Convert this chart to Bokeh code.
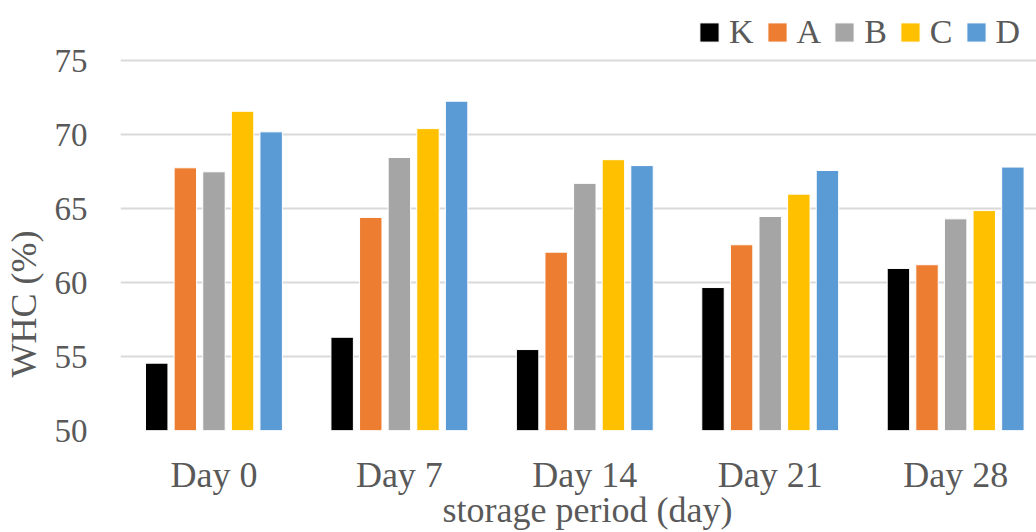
from bokeh.plotting import figure
from bokeh.models import ColumnDataSource, FixedTicker, Range1d, Legend, LegendItem
from bokeh.embed import file_html
from bokeh.resources import INLINE

days = ["Day 0", "Day 7", "Day 14", "Day 21", "Day 28"]
series_names = ["K", "A", "B", "C", "D"]
K = [54.55, 56.30, 55.47, 59.66, 60.95]
A = [67.75, 64.40, 62.05, 62.55, 61.20]
B = [67.48, 68.45, 66.70, 64.46, 64.30]
C = [71.57, 70.40, 68.30, 65.97, 64.86]
D = [70.18, 72.25, 67.90, 67.57, 67.80]
colors = ["#000000", "#ED7D31", "#A5A5A5", "#FFC000", "#5B9BD5"]
y_ticks = [50, 55, 60, 65, 70, 75]

FONT = "Liberation Serif"
TXT = "#595959"
NB = "\u00a0"

p = figure(width=1036, height=532, output_backend="svg", toolbar_location=None,
           x_range=Range1d(-0.504, 4.436), y_range=Range1d(50, 78.65),
           min_border_left=120, min_border_right=0, min_border_top=6, min_border_bottom=102)
p.outline_line_color = None
p.background_fill_color = "white"
p.border_fill_color = "white"

pitch = 0.1543
bw = 0.121
items = []
for i, (name, vals, col) in enumerate(zip(series_names, [K, A, B, C, D], colors)):
    xs = [j + (i - 2) * pitch for j in range(len(days))]
    src = ColumnDataSource(dict(x=xs, top=vals, day=days))
    r = p.vbar(x="x", top="top", bottom=50, width=bw, source=src,
               fill_color=col, line_color="white", line_width=1)
    items.append(LegendItem(label=name, renderers=[r]))

legend = Legend(items=items, orientation="horizontal", location=(577, 379),
                glyph_width=24, glyph_height=24, label_standoff=8, spacing=11,
                padding=0, margin=0, border_line_color=None, background_fill_alpha=0,
                label_text_font=FONT, label_text_font_size="34px", label_text_color=TXT)
p.add_layout(legend)

# axes
p.xaxis.ticker = FixedTicker(ticks=list(range(len(days))))
p.xaxis.major_label_overrides = {i: d for i, d in enumerate(days)}
p.xaxis.axis_line_color = None
p.xaxis.major_tick_line_color = None
p.xaxis.minor_tick_line_color = None
p.xaxis.major_label_standoff = 18
p.xaxis.major_label_text_font = FONT
p.xaxis.major_label_text_font_size = "36px"
p.xaxis.major_label_text_color = TXT
p.xaxis.axis_label = NB * 2 + "storage period (day)"
p.xaxis.axis_label_text_font = FONT
p.xaxis.axis_label_text_font_size = "36px"
p.xaxis.axis_label_text_font_style = "normal"
p.xaxis.axis_label_text_color = TXT
p.xaxis.axis_label_standoff = -8

p.yaxis.ticker = FixedTicker(ticks=y_ticks)
p.yaxis.axis_line_color = None
p.yaxis.major_tick_line_color = None
p.yaxis.minor_tick_line_color = None
p.yaxis.major_label_standoff = 27
p.yaxis.major_label_text_font = FONT
p.yaxis.major_label_text_font_size = "33px"
p.yaxis.major_label_text_color = TXT
p.yaxis.axis_label = "WHC (%)" + NB * 19
p.yaxis.axis_label_text_font = FONT
p.yaxis.axis_label_text_font_size = "36px"
p.yaxis.axis_label_text_font_style = "normal"
p.yaxis.axis_label_text_color = TXT
p.yaxis.axis_label_standoff = 8

p.xgrid.grid_line_color = None
p.ygrid.ticker = FixedTicker(ticks=y_ticks)
p.ygrid.grid_line_color = "#D9D9D9"
p.ygrid.grid_line_width = 2

open("out.html", "w").write(file_html(p, INLINE))
